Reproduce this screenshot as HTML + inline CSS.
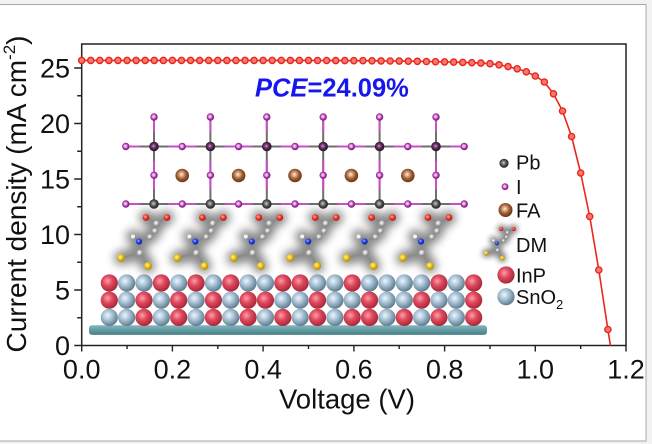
<!DOCTYPE html>
<html><head><meta charset="utf-8"><style>
html,body{margin:0;padding:0;background:#f2f2f2;overflow:hidden}
svg{display:block}
text{font-family:"Liberation Sans",Arial,sans-serif;fill:#111}
.r{fill:url(#gR)}
.b{fill:url(#gB)}
.m{fill:#f7786e;stroke:#e8261d;stroke-width:1.4}
.i{fill:url(#gI)}
.pb{fill:url(#gPb)}
.pt{fill:url(#gPt)}
.fa{fill:url(#gFA)}
</style></head><body>
<svg width="652" height="444" viewBox="0 0 652 444" xmlns="http://www.w3.org/2000/svg">
<defs>
<radialGradient id="gR" cx=".4" cy=".38" r=".62"><stop offset="0" stop-color="#f8a2ad"/><stop offset=".45" stop-color="#e24a5e"/><stop offset="1" stop-color="#a8283a"/></radialGradient>
<radialGradient id="gB" cx=".4" cy=".38" r=".62"><stop offset="0" stop-color="#eef6fc"/><stop offset=".45" stop-color="#a9c3d6"/><stop offset="1" stop-color="#617c8f"/></radialGradient>
<radialGradient id="gPb" cx=".45" cy=".45" r=".55"><stop offset="0" stop-color="#d0d0d0"/><stop offset=".35" stop-color="#7a7a7a"/><stop offset=".7" stop-color="#3a3a3a"/><stop offset="1" stop-color="#2a2a2a"/></radialGradient>
<radialGradient id="gPt" cx=".45" cy=".45" r=".55"><stop offset="0" stop-color="#d8a0d0"/><stop offset=".35" stop-color="#7a3a74"/><stop offset=".7" stop-color="#3a2038"/><stop offset="1" stop-color="#2a1a2a"/></radialGradient>
<radialGradient id="gI" cx=".45" cy=".45" r=".55"><stop offset="0" stop-color="#ffe8ff"/><stop offset=".35" stop-color="#e49ae4"/><stop offset=".65" stop-color="#a232a2"/><stop offset="1" stop-color="#7a1a7a"/></radialGradient>
<radialGradient id="gFA" cx=".45" cy=".42" r=".58"><stop offset="0" stop-color="#fff2e4"/><stop offset=".25" stop-color="#dcaa86"/><stop offset=".6" stop-color="#9a5a2e"/><stop offset="1" stop-color="#663416"/></radialGradient>
<radialGradient id="gO" cx=".4" cy=".38" r=".62"><stop offset="0" stop-color="#ffb0a0"/><stop offset=".5" stop-color="#ee3a2a"/><stop offset="1" stop-color="#b01a10"/></radialGradient>
<radialGradient id="gN" cx=".4" cy=".38" r=".62"><stop offset="0" stop-color="#a0b0ff"/><stop offset=".5" stop-color="#2040f0"/><stop offset="1" stop-color="#1020a0"/></radialGradient>
<radialGradient id="gS" cx=".4" cy=".38" r=".62"><stop offset="0" stop-color="#fff6a0"/><stop offset=".5" stop-color="#e8c21a"/><stop offset="1" stop-color="#b08a00"/></radialGradient>
<radialGradient id="gC" cx=".4" cy=".38" r=".62"><stop offset="0" stop-color="#ffffff"/><stop offset=".5" stop-color="#c4c4c4"/><stop offset="1" stop-color="#7c7c7c"/></radialGradient>
<linearGradient id="gSlab" x1="0" y1="0" x2="0" y2="1"><stop offset="0" stop-color="#86b6bc"/><stop offset=".5" stop-color="#609aa2"/><stop offset="1" stop-color="#4a7f87"/></linearGradient>
<filter id="sh" x="-60%" y="-60%" width="220%" height="220%"><feGaussianBlur stdDeviation="4.5"/></filter>
<g id="dm">
 <path d="M-8 217.5L2.5 223.5L13 217.5M2.5 223.5L1 231L-4 237L-15 241.5L-21 236.5M-15 241.5L-14 253L-33 258M-14 253L-6 266" stroke="#3a3a3a" stroke-width="14" stroke-linecap="round" stroke-linejoin="round" fill="none" opacity=".6" filter="url(#sh)"/>
 <path d="M-8 217.5L2.5 223.5L13 217.5M2.5 223.5L1 231L-4 237L-15 241.5L-21 236.5M-15 241.5L-14 253L-33 258M-14 253L-6 266" stroke="#8c8c8c" stroke-width="2.2" fill="none"/>
 <circle cx="-8" cy="217.5" r="3.4" fill="url(#gO)"/>
 <circle cx="13" cy="217.5" r="3.4" fill="url(#gO)"/>
 <circle cx="2.5" cy="223.5" r="3" fill="url(#gC)"/>
 <circle cx="1" cy="231" r="2.8" fill="url(#gC)"/>
 <circle cx="-4" cy="237" r="2.8" fill="url(#gC)"/>
 <circle cx="-21" cy="236.5" r="2" fill="#f4f4f4"/>
 <circle cx="-15" cy="241.5" r="3.1" fill="url(#gN)"/>
 <circle cx="-14" cy="253" r="3.2" fill="url(#gC)"/>
 <circle cx="-33" cy="258" r="3.9" fill="url(#gS)"/>
 <circle cx="-6" cy="266" r="3.9" fill="url(#gS)"/>
</g>
</defs>

<rect x="0" y="0" width="652" height="444" fill="#f2f2f2"/>
<rect x="-1" y="4.5" width="647" height="436.5" fill="#fff" stroke="#a8a8a8" stroke-width="1"/>

<rect x="81.7" y="44" width="544.3" height="301.5" fill="none" stroke="#222" stroke-width="1.5"/>

<rect x="89" y="325.3" width="398" height="9.6" rx="3" fill="url(#gSlab)"/>

<g>
<circle class="r" cx="109.3" cy="283" r="8.6"/><circle class="b" cx="126.65" cy="283" r="8.6"/><circle class="b" cx="144" cy="283" r="8.6"/><circle class="r" cx="161.35" cy="283" r="8.6"/><circle class="b" cx="178.7" cy="283" r="8.6"/><circle class="r" cx="196.05" cy="283" r="8.6"/><circle class="b" cx="213.4" cy="283" r="8.6"/><circle class="r" cx="230.75" cy="283" r="8.6"/><circle class="b" cx="248.1" cy="283" r="8.6"/><circle class="b" cx="265.45" cy="283" r="8.6"/><circle class="r" cx="282.8" cy="283" r="8.6"/><circle class="r" cx="300.15" cy="283" r="8.6"/><circle class="b" cx="317.5" cy="283" r="8.6"/><circle class="b" cx="334.85" cy="283" r="8.6"/><circle class="r" cx="352.2" cy="283" r="8.6"/><circle class="b" cx="369.55" cy="283" r="8.6"/><circle class="b" cx="386.9" cy="283" r="8.6"/><circle class="b" cx="404.25" cy="283" r="8.6"/><circle class="b" cx="421.6" cy="283" r="8.6"/><circle class="r" cx="438.95" cy="283" r="8.6"/><circle class="b" cx="456.3" cy="283" r="8.6"/><circle class="r" cx="473.65" cy="283" r="8.6"/>
</g>
<g>
<circle class="r" cx="109.3" cy="300.2" r="8.6"/><circle class="b" cx="126.65" cy="300.2" r="8.6"/><circle class="r" cx="144" cy="300.2" r="8.6"/><circle class="b" cx="161.35" cy="300.2" r="8.6"/><circle class="r" cx="178.7" cy="300.2" r="8.6"/><circle class="b" cx="196.05" cy="300.2" r="8.6"/><circle class="r" cx="213.4" cy="300.2" r="8.6"/><circle class="b" cx="230.75" cy="300.2" r="8.6"/><circle class="r" cx="248.1" cy="300.2" r="8.6"/><circle class="r" cx="265.45" cy="300.2" r="8.6"/><circle class="b" cx="282.8" cy="300.2" r="8.6"/><circle class="b" cx="300.15" cy="300.2" r="8.6"/><circle class="r" cx="317.5" cy="300.2" r="8.6"/><circle class="b" cx="334.85" cy="300.2" r="8.6"/><circle class="b" cx="352.2" cy="300.2" r="8.6"/><circle class="r" cx="369.55" cy="300.2" r="8.6"/><circle class="b" cx="386.9" cy="300.2" r="8.6"/><circle class="b" cx="404.25" cy="300.2" r="8.6"/><circle class="r" cx="421.6" cy="300.2" r="8.6"/><circle class="b" cx="438.95" cy="300.2" r="8.6"/><circle class="b" cx="456.3" cy="300.2" r="8.6"/><circle class="r" cx="473.65" cy="300.2" r="8.6"/>
</g>
<g>
<circle class="b" cx="109.3" cy="317.4" r="8.6"/><circle class="b" cx="126.65" cy="317.4" r="8.6"/><circle class="r" cx="144" cy="317.4" r="8.6"/><circle class="b" cx="161.35" cy="317.4" r="8.6"/><circle class="r" cx="178.7" cy="317.4" r="8.6"/><circle class="b" cx="196.05" cy="317.4" r="8.6"/><circle class="r" cx="213.4" cy="317.4" r="8.6"/><circle class="b" cx="230.75" cy="317.4" r="8.6"/><circle class="r" cx="248.1" cy="317.4" r="8.6"/><circle class="b" cx="265.45" cy="317.4" r="8.6"/><circle class="r" cx="282.8" cy="317.4" r="8.6"/><circle class="b" cx="300.15" cy="317.4" r="8.6"/><circle class="r" cx="317.5" cy="317.4" r="8.6"/><circle class="b" cx="334.85" cy="317.4" r="8.6"/><circle class="r" cx="352.2" cy="317.4" r="8.6"/><circle class="r" cx="369.55" cy="317.4" r="8.6"/><circle class="b" cx="386.9" cy="317.4" r="8.6"/><circle class="r" cx="404.25" cy="317.4" r="8.6"/><circle class="b" cx="421.6" cy="317.4" r="8.6"/><circle class="r" cx="438.95" cy="317.4" r="8.6"/><circle class="b" cx="456.3" cy="317.4" r="8.6"/><circle class="r" cx="473.65" cy="317.4" r="8.6"/>
</g>

<use href="#dm" x="154"/>
<use href="#dm" x="210.4"/>
<use href="#dm" x="266.8"/>
<use href="#dm" x="323.2"/>
<use href="#dm" x="379.6"/>
<use href="#dm" x="436"/>

<path d="M125.8 146.5H464.2M125.8 204H464.2M154 117V204M210.4 117V204M266.8 117V204M323.2 117V204M379.6 117V204M436 117V204" stroke="#6e6e6e" stroke-width="2" fill="none"/>
<path d="M125.8 146.5H139.8M168.2 146.5H196.2M224.6 146.5H252.6M281 146.5H309M337.4 146.5H365.4M393.8 146.5H421.8M450.2 146.5H464.2
M125.8 204H139.8M168.2 204H196.2M224.6 204H252.6M281 204H309M337.4 204H365.4M393.8 204H421.8M450.2 204H464.2
M154 117V131.7M154 160.9V189.6M210.4 117V131.7M210.4 160.9V189.6M266.8 117V131.7M266.8 160.9V189.6M323.2 117V131.7M323.2 160.9V189.6M379.6 117V131.7M379.6 160.9V189.6M436 117V131.7M436 160.9V189.6" stroke="#c452c4" stroke-width="2" fill="none"/>

<circle class="fa" cx="182.2" cy="175.5" r="6.8"/><circle class="fa" cx="238.6" cy="175.5" r="6.8"/><circle class="fa" cx="295" cy="175.5" r="6.8"/><circle class="fa" cx="351.4" cy="175.5" r="6.8"/><circle class="fa" cx="407.8" cy="175.5" r="6.8"/>

<g>
<circle class="i" cx="125.8" cy="146.5" r="3.7"/><circle class="i" cx="182.2" cy="146.5" r="3.7"/><circle class="i" cx="238.6" cy="146.5" r="3.7"/><circle class="i" cx="295" cy="146.5" r="3.7"/><circle class="i" cx="351.4" cy="146.5" r="3.7"/><circle class="i" cx="407.8" cy="146.5" r="3.7"/><circle class="i" cx="464.2" cy="146.5" r="3.7"/>
<circle class="i" cx="125.8" cy="204" r="3.7"/><circle class="i" cx="182.2" cy="204" r="3.7"/><circle class="i" cx="238.6" cy="204" r="3.7"/><circle class="i" cx="295" cy="204" r="3.7"/><circle class="i" cx="351.4" cy="204" r="3.7"/><circle class="i" cx="407.8" cy="204" r="3.7"/><circle class="i" cx="464.2" cy="204" r="3.7"/>
<circle class="i" cx="154" cy="117" r="3.7"/><circle class="i" cx="210.4" cy="117" r="3.7"/><circle class="i" cx="266.8" cy="117" r="3.7"/><circle class="i" cx="323.2" cy="117" r="3.7"/><circle class="i" cx="379.6" cy="117" r="3.7"/><circle class="i" cx="436" cy="117" r="3.7"/>
<circle class="i" cx="154" cy="175.3" r="3.7"/><circle class="i" cx="210.4" cy="175.3" r="3.7"/><circle class="i" cx="266.8" cy="175.3" r="3.7"/><circle class="i" cx="323.2" cy="175.3" r="3.7"/><circle class="i" cx="379.6" cy="175.3" r="3.7"/><circle class="i" cx="436" cy="175.3" r="3.7"/>
</g>
<g>
<circle class="pt" cx="154" cy="146.5" r="4.8"/><circle class="pt" cx="210.4" cy="146.5" r="4.8"/><circle class="pt" cx="266.8" cy="146.5" r="4.8"/><circle class="pt" cx="323.2" cy="146.5" r="4.8"/><circle class="pt" cx="379.6" cy="146.5" r="4.8"/><circle class="pt" cx="436" cy="146.5" r="4.8"/>
<circle class="pb" cx="154" cy="204" r="4.8"/><circle class="pb" cx="210.4" cy="204" r="4.8"/><circle class="pb" cx="266.8" cy="204" r="4.8"/><circle class="pb" cx="323.2" cy="204" r="4.8"/><circle class="pb" cx="379.6" cy="204" r="4.8"/><circle class="pb" cx="436" cy="204" r="4.8"/>
</g>

<circle class="pb" cx="504" cy="163.3" r="4.6"/>
<circle class="i" cx="505" cy="186.7" r="3.4"/>
<circle class="fa" cx="505.5" cy="210" r="7"/>
<use href="#dm" transform="translate(506,98.5) scale(0.6)"/>
<circle class="r" cx="506" cy="275" r="8.6"/>
<circle class="b" cx="506" cy="296.7" r="8.6"/>
<text x="516" y="169.6" font-size="20">Pb</text>
<text x="516" y="194" font-size="20">I</text>
<text x="516" y="217.3" font-size="20">FA</text>
<text x="516" y="252.2" font-size="20">DM</text>
<text x="516" y="282.3" font-size="20">InP</text>
<text x="516" y="304" font-size="20">SnO<tspan font-size="13" dy="5">2</tspan></text>

<polyline fill="none" stroke="#e8281e" stroke-width="1.6" stroke-linejoin="round" points="81.7,60.4 90.77,60.4 99.84,60.4 108.92,60.4 117.99,60.4 127.06,60.4 136.13,60.4 145.2,60.4 154.28,60.4 163.35,60.4 172.42,60.4 181.49,60.4 190.56,60.4 199.64,60.4 208.71,60.4 217.78,60.4 226.85,60.4 235.92,60.4 245,60.4 254.07,60.4 263.14,60.4 272.21,60.4 281.28,60.4 290.36,60.4 299.43,60.4 308.5,60.4 317.57,60.5 326.64,60.5 335.72,60.6 344.79,60.6 353.86,60.7 362.93,60.7 372,60.8 381.08,60.9 390.15,61 399.22,61.1 408.29,61.2 417.36,61.3 426.44,61.5 435.51,61.7 444.58,61.9 453.65,62.1 462.72,62.4 471.8,62.7 480.87,63.1 489.94,63.7 499.01,64.8 508.08,66.6 517.16,68.8 526.23,71.8 535.3,76 544.37,82 553.44,93.8 562.52,111 571.59,136.5 580.66,173 589.73,216.5 598.8,270 607.88,329.5 610.4,345.5"/>
<g>
<circle class="m" cx="81.7" cy="60.4" r="3.1"/><circle class="m" cx="90.77" cy="60.4" r="3.1"/><circle class="m" cx="99.84" cy="60.4" r="3.1"/><circle class="m" cx="108.92" cy="60.4" r="3.1"/><circle class="m" cx="117.99" cy="60.4" r="3.1"/><circle class="m" cx="127.06" cy="60.4" r="3.1"/><circle class="m" cx="136.13" cy="60.4" r="3.1"/><circle class="m" cx="145.2" cy="60.4" r="3.1"/><circle class="m" cx="154.28" cy="60.4" r="3.1"/><circle class="m" cx="163.35" cy="60.4" r="3.1"/><circle class="m" cx="172.42" cy="60.4" r="3.1"/><circle class="m" cx="181.49" cy="60.4" r="3.1"/><circle class="m" cx="190.56" cy="60.4" r="3.1"/><circle class="m" cx="199.64" cy="60.4" r="3.1"/><circle class="m" cx="208.71" cy="60.4" r="3.1"/><circle class="m" cx="217.78" cy="60.4" r="3.1"/><circle class="m" cx="226.85" cy="60.4" r="3.1"/><circle class="m" cx="235.92" cy="60.4" r="3.1"/><circle class="m" cx="245" cy="60.4" r="3.1"/><circle class="m" cx="254.07" cy="60.4" r="3.1"/><circle class="m" cx="263.14" cy="60.4" r="3.1"/><circle class="m" cx="272.21" cy="60.4" r="3.1"/><circle class="m" cx="281.28" cy="60.4" r="3.1"/><circle class="m" cx="290.36" cy="60.4" r="3.1"/><circle class="m" cx="299.43" cy="60.4" r="3.1"/><circle class="m" cx="308.5" cy="60.4" r="3.1"/><circle class="m" cx="317.57" cy="60.5" r="3.1"/><circle class="m" cx="326.64" cy="60.5" r="3.1"/><circle class="m" cx="335.72" cy="60.6" r="3.1"/><circle class="m" cx="344.79" cy="60.6" r="3.1"/><circle class="m" cx="353.86" cy="60.7" r="3.1"/><circle class="m" cx="362.93" cy="60.7" r="3.1"/><circle class="m" cx="372" cy="60.8" r="3.1"/><circle class="m" cx="381.08" cy="60.9" r="3.1"/><circle class="m" cx="390.15" cy="61" r="3.1"/><circle class="m" cx="399.22" cy="61.1" r="3.1"/><circle class="m" cx="408.29" cy="61.2" r="3.1"/><circle class="m" cx="417.36" cy="61.3" r="3.1"/><circle class="m" cx="426.44" cy="61.5" r="3.1"/><circle class="m" cx="435.51" cy="61.7" r="3.1"/><circle class="m" cx="444.58" cy="61.9" r="3.1"/><circle class="m" cx="453.65" cy="62.1" r="3.1"/><circle class="m" cx="462.72" cy="62.4" r="3.1"/><circle class="m" cx="471.8" cy="62.7" r="3.1"/><circle class="m" cx="480.87" cy="63.1" r="3.1"/><circle class="m" cx="489.94" cy="63.7" r="3.1"/><circle class="m" cx="499.01" cy="64.8" r="3.1"/><circle class="m" cx="508.08" cy="66.6" r="3.1"/><circle class="m" cx="517.16" cy="68.8" r="3.1"/><circle class="m" cx="526.23" cy="71.8" r="3.1"/><circle class="m" cx="535.3" cy="76" r="3.1"/><circle class="m" cx="544.37" cy="82" r="3.1"/><circle class="m" cx="553.44" cy="93.8" r="3.1"/><circle class="m" cx="562.52" cy="111" r="3.1"/><circle class="m" cx="571.59" cy="136.5" r="3.1"/><circle class="m" cx="580.66" cy="173" r="3.1"/><circle class="m" cx="589.73" cy="216.5" r="3.1"/><circle class="m" cx="598.8" cy="270" r="3.1"/><circle class="m" cx="607.88" cy="329.5" r="3.1"/>
</g>

<text x="255" y="96.5" font-size="25.5" font-weight="bold" style="fill:#1616ee"><tspan font-style="italic" style="fill:#1616ee">PCE</tspan>=24.09%</text>

<path d="M81.7 345.5v6M172.4 345.5v6M263.1 345.5v6M353.9 345.5v6M444.6 345.5v6M535.3 345.5v6M626 345.5v6
M127.06 345.5v3.5M217.8 345.5v3.5M308.5 345.5v3.5M399.2 345.5v3.5M490 345.5v3.5M580.7 345.5v3.5
M81.7 345.5h-7.5M81.7 290h-7.5M81.7 234.5h-7.5M81.7 179h-7.5M81.7 123.5h-7.5M81.7 68h-7.5
M81.7 317.75h-4.5M81.7 262.25h-4.5M81.7 206.75h-4.5M81.7 151.25h-4.5M81.7 95.75h-4.5" stroke="#222" stroke-width="1.4" fill="none"/>

<g font-size="27" text-anchor="end">
<text x="70" y="355.2">0</text>
<text x="70" y="299.7">5</text>
<text x="70" y="244.2">10</text>
<text x="70" y="188.7">15</text>
<text x="70" y="133.2">20</text>
<text x="70" y="77.7">25</text>
</g>
<g font-size="27" text-anchor="middle">
<text x="81.7" y="378.6">0.0</text>
<text x="172.4" y="378.6">0.2</text>
<text x="263.1" y="378.6">0.4</text>
<text x="353.9" y="378.6">0.6</text>
<text x="444.6" y="378.6">0.8</text>
<text x="535.3" y="378.6">1.0</text>
<text x="626" y="378.6">1.2</text>
</g>

<text x="347" y="408.5" font-size="27.5" text-anchor="middle">Voltage (V)</text>
<text transform="translate(26,194) rotate(-90)" font-size="28" text-anchor="middle">Current density (mA cm<tspan font-size="17" dy="-11">-2</tspan><tspan dy="11">)</tspan></text>
</svg>
</body></html>
